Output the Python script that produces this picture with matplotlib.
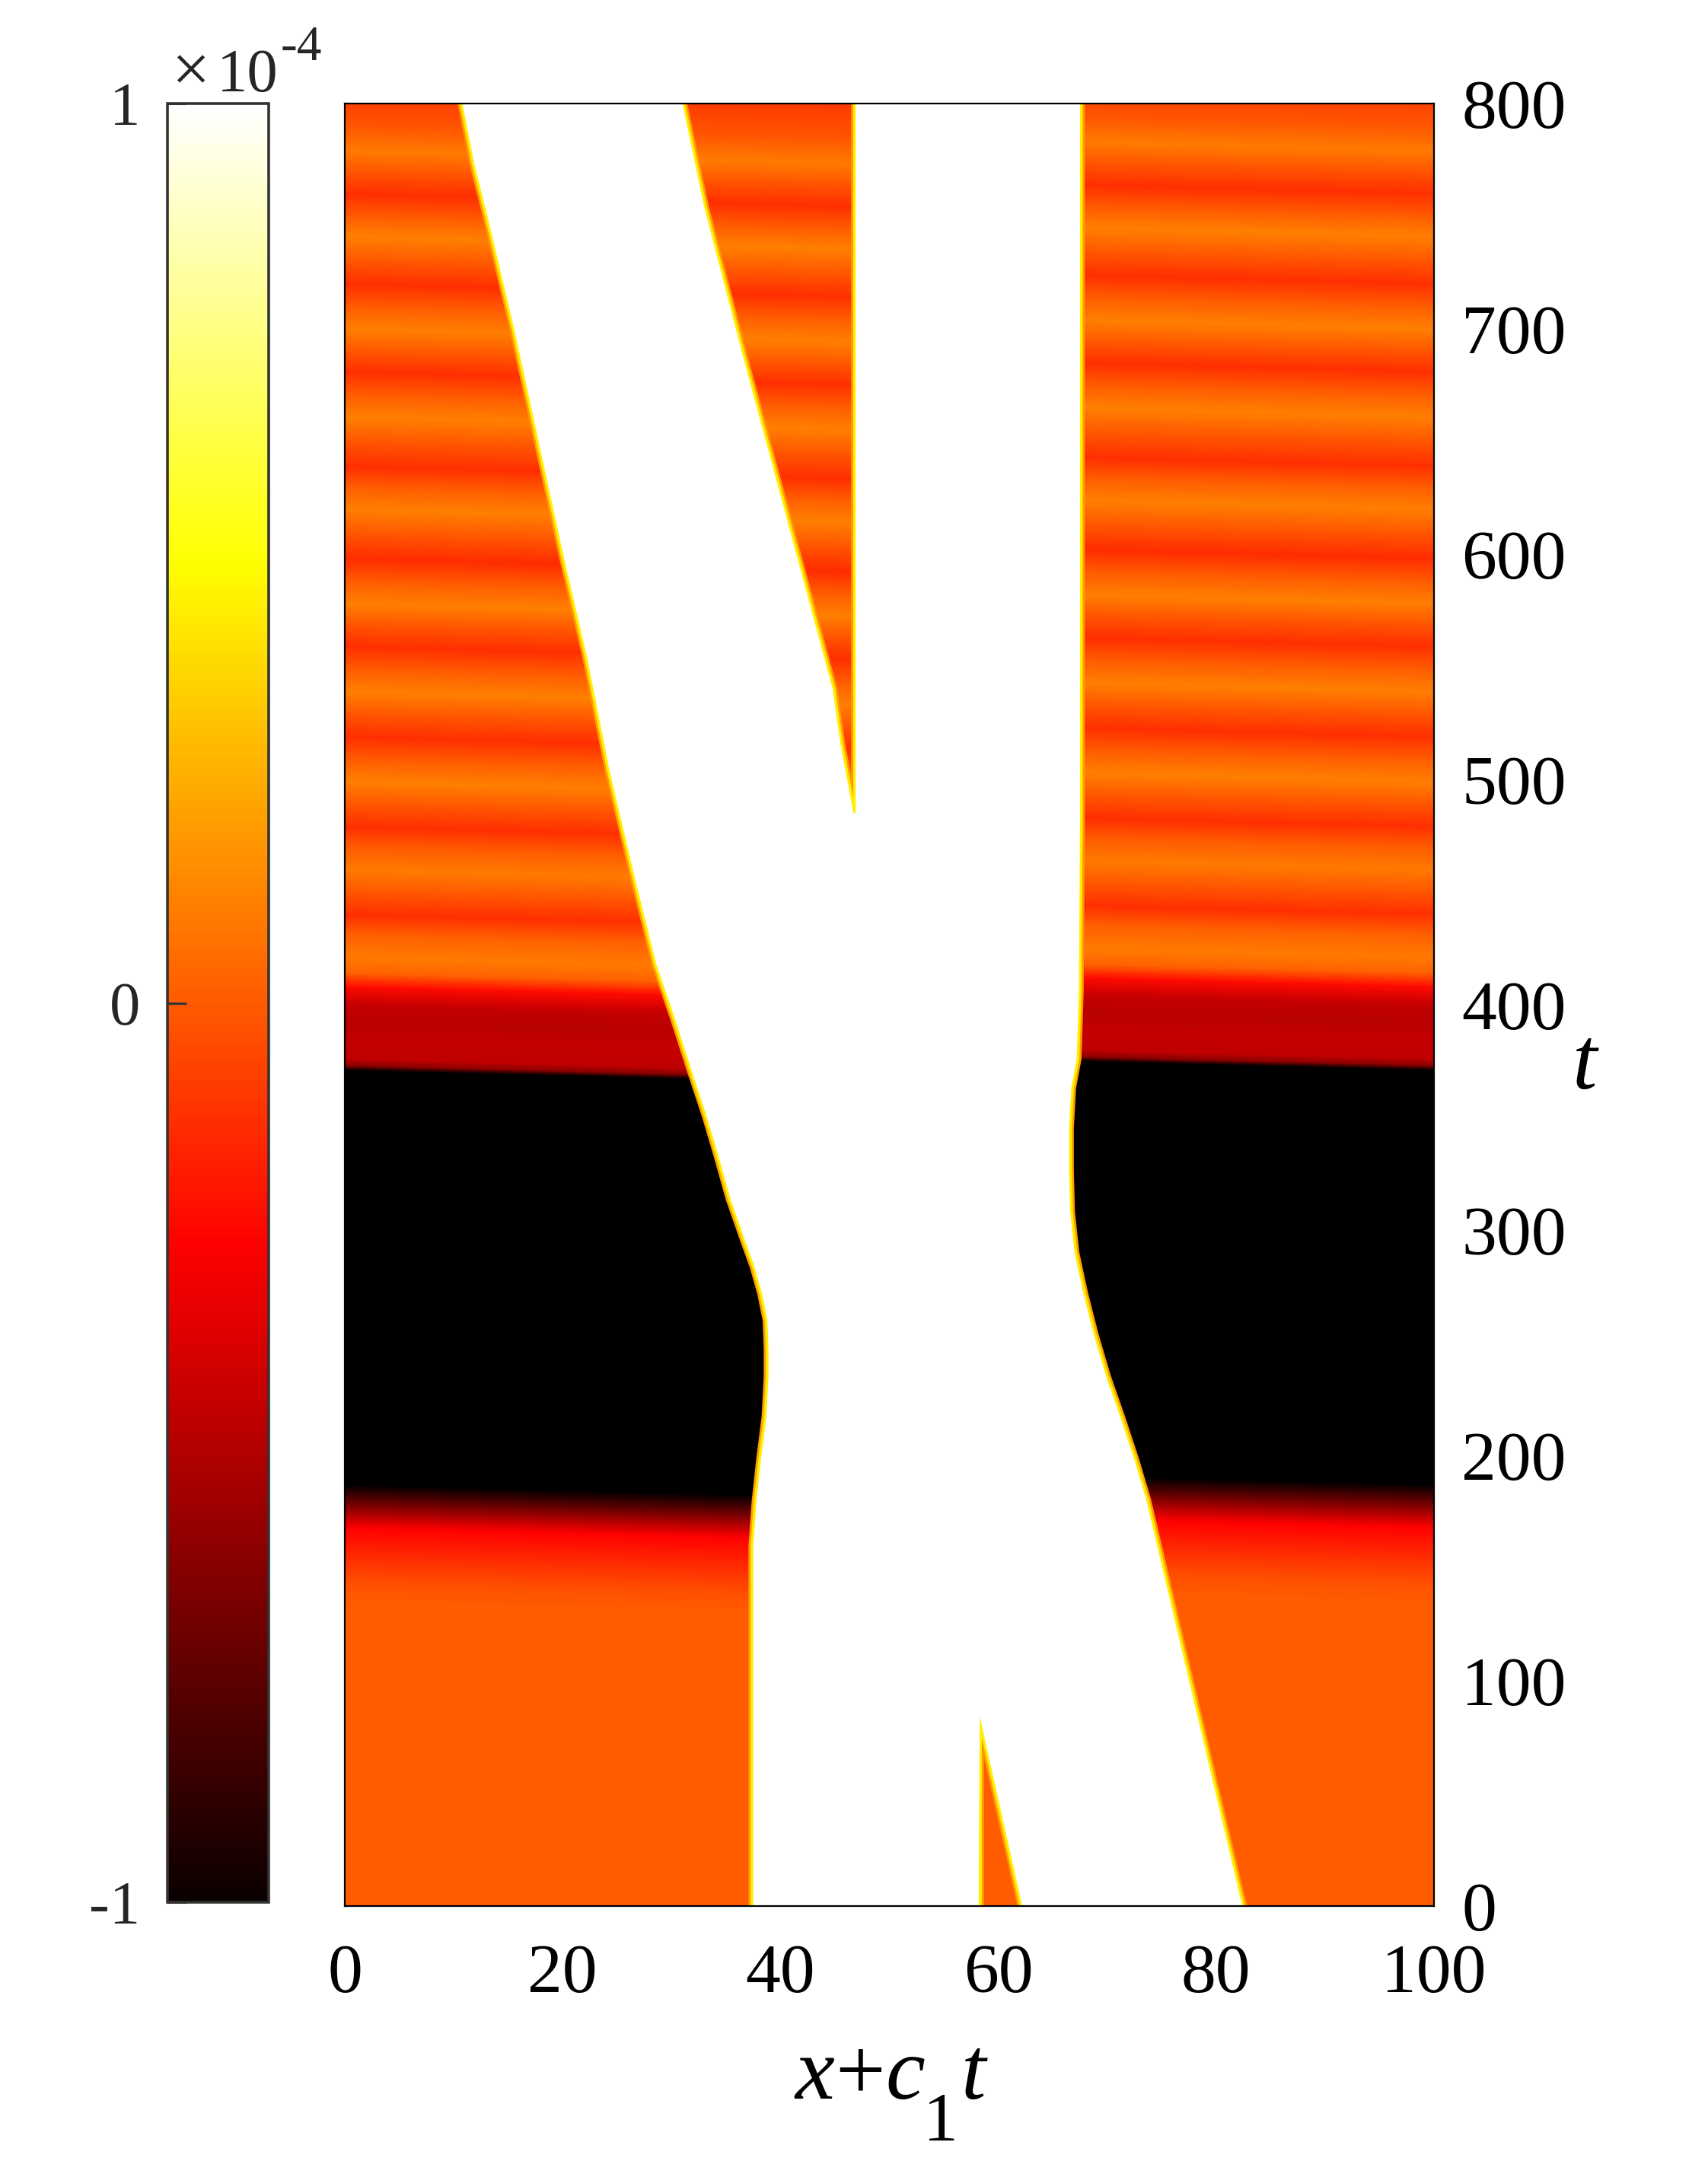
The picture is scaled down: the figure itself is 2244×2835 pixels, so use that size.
import matplotlib
matplotlib.use("Agg")
import matplotlib.pyplot as plt
import numpy as np
from matplotlib.path import Path
from matplotlib.patches import PathPatch

plt.rcParams['font.family'] = ['Liberation Serif', 'DejaVu Serif']

# field value (x 1e-4) along t, read from the stripes at x = 0
band_t = [-10, 135, 143, 154, 168, 187, 371, 373, 376, 385, 392, 400, 408,
          414, 421, 431, 440, 450, 460, 470, 479, 489, 499, 509, 519, 529, 539, 549, 559,
          569, 578, 588, 598, 609, 620, 630, 639, 650, 661, 671, 681, 690, 700, 710, 720,
          730, 741, 750, 760, 770, 779, 790, 810]
band_v = [0.0, 0.0, -0.03, -0.13, -0.27, -1.1, -1.1, -0.62, -0.46, -0.44, -0.48, -0.44, -0.24,
          0.02, 0.1, 0.02, -0.13, -0.01, 0.1, 0.0, -0.13, -0.01, 0.11, 0.0, -0.13, -0.01, 0.11, 0.0, -0.13,
          -0.01, 0.11, 0.0, -0.14, -0.01, 0.11, 0.0, -0.13, -0.01, 0.11, 0.0, -0.13, -0.01, 0.11, 0.0, -0.13,
          -0.01, 0.11, 0.0, -0.13, -0.01, 0.1, -0.01, -0.13]

# tilt of the stripes in t, periodic in x
tilt_x = [0, 50, 50, 100]
tilt_t = [0, -6.1, 6.1, 0]

# fronts of the white zone
left_t = [0, 160, 180, 198, 217, 235, 247, 260, 272, 284, 296, 314, 333, 351, 370, 394, 418, 455, 504, 553, 601, 650, 699, 748, 773, 800]
left_x = [37.5, 37.5, 37.8, 38.2, 38.7, 38.9, 38.9, 38.8, 38.3, 37.6, 36.7, 35.4, 34.3, 33.2, 31.9, 30.3, 28.6, 26.7, 24.3, 22.3, 20.0, 17.8, 15.6, 13.2, 11.9, 10.8]
right_t = [0, 180, 198, 217, 235, 253, 272, 290, 308, 327, 345, 363, 376, 406, 480, 800]
right_x = [82.4, 73.6, 72.5, 71.2, 69.9, 68.8, 67.8, 67.0, 66.6, 66.5, 66.5, 66.7, 67.2, 67.4, 67.5, 67.5]

# upper wedge
wedge_t = [485, 516, 540, 601, 687, 754, 800]
wedge_l = [46.7, 45.5, 44.8, 41.4, 36.6, 33.0, 31.0]
wedge_r = [46.9, 46.9, 46.9, 46.9, 46.9, 46.9, 46.9]

# lower triangle
tri_t = [0, 84]
tri_l = [58.2, 58.2]
tri_r = [62.2, 58.3]

xticks = [0, 20, 40, 60, 80, 100]
yticks = [0, 100, 200, 300, 400, 500, 600, 700, 800]
cticks = [-1, 0, 1]
clabels = ['-1', '0', '1']

W, H = 2244, 2835
fig = plt.figure(figsize=(W / 100, H / 100), dpi=100)

ax = fig.add_axes([453 / W, 1 - 2504 / H, (1884 - 453) / W, (2504 - 136) / H])
cax = fig.add_axes([220 / W, 1 - 2499 / H, (353 - 220) / W, (2499 - 136) / H])

cmap = plt.get_cmap('hot').copy()
cmap.set_under('black')

# field, one row per band value, sheared with tilt
X = np.tile(np.array(tilt_x, dtype=float), (len(band_t), 1))
T = np.array(band_t, dtype=float)[:, None] + np.array(tilt_t, dtype=float)[None, :]
V = np.tile(np.array(band_v)[:, None], (1, len(tilt_x)))
mesh = ax.pcolormesh(X, T, V, shading='gouraud', cmap=cmap, vmin=-1, vmax=1)

# yellow rims, half of them get covered by the white patch
rims = [(left_x, left_t), (right_x, right_t), (wedge_l, wedge_t), (wedge_r, wedge_t), (tri_l, tri_t), (tri_r, tri_t)]
for rx, rt in rims:
    ax.plot(rx, rt, color='#ff9c00', lw=9, zorder=2)
    ax.plot(rx, rt, color='#ffee00', lw=5, zorder=3)

# white zone with the wedge and the triangle cut out
outer = list(zip(left_x, left_t)) + list(zip(right_x[::-1], right_t[::-1]))
hole1 = list(zip(wedge_r, wedge_t)) + list(zip(wedge_l[::-1], wedge_t[::-1]))
hole2 = [(tri_r[0], tri_t[0]), (tri_r[1], tri_t[1]), (tri_l[0], tri_t[0])]
verts, codes = [], []
for ring in [outer, hole1, hole2]:
    verts += ring + [ring[0]]
    codes += [Path.MOVETO] + [Path.LINETO] * (len(ring) - 1) + [Path.CLOSEPOLY]
ax.add_patch(PathPatch(Path(verts, codes), fc='white', ec='none', zorder=4))

ax.set_xlim(0, 100)
ax.set_ylim(0, 800)
ax.set_xticks(xticks)
ax.set_yticks(yticks)
ax.yaxis.tick_right()
ax.tick_params(axis='x', length=0, pad=36, labelsize=66)
ax.tick_params(axis='y', length=0, pad=26, labelsize=66)
for s in ax.spines.values():
    s.set_linewidth(1.6)
    s.set_zorder(6)

cb = fig.colorbar(mesh, cax=cax)
cb.set_ticks(cticks)
cb.set_ticklabels(clabels)
cax.yaxis.set_ticks_position('left')
cax.tick_params(axis='y', direction='in', length=18, width=2.2, color='#333333',
                labelcolor='#262626', pad=26, labelsize=58)
cb.outline.set_linewidth(2.6)
cb.outline.set_edgecolor('#333333')


def put(x, y, s, size, style='normal', color='black'):
    fig.text(x / W, 1 - y / H, s, fontsize=size, style=style, color=color, va='baseline', ha='left')


put(226, 120, '\u00d7', 64, color='#262626')
put(285, 120, '10', 58, color='#262626')
put(369, 79, '-4', 47, color='#262626')

# axis labels
put(1044, 2757, 'x', 84, 'italic')
put(1097, 2757, '+', 84)
put(1163, 2757, 'c', 84, 'italic')
put(1213, 2812, '1', 66)
put(1263, 2757, 't', 84, 'italic')
put(2066, 1430, 't', 84, 'italic')

fig.savefig('out.png', dpi=100)
